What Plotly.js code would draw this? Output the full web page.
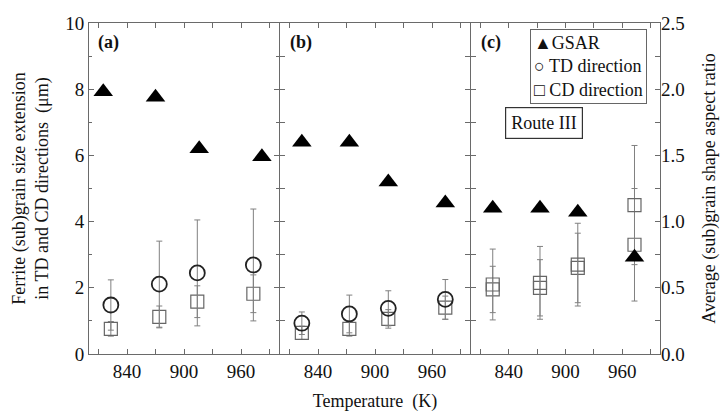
<!DOCTYPE html>
<html>
<head>
<meta charset="utf-8">
<script src="https://cdn.plot.ly/plotly-3.0.1.min.js"></script>
<style>html,body{margin:0;padding:0;background:#fff;}#chart{width:723px;height:412px;}</style>
</head>
<body>
<div id="chart"></div>
<script>
// ---- Data ----
const panelLabels = ['(a)', '(b)', '(c)'];
const tickTemps = [840, 900, 960];
const legendLabels = ['GSAR', 'TD direction', 'CD direction'];

// Panel (a)
const gsarA_T = [815, 870, 916, 982];
const gsarA = [1.98, 1.94, 1.55, 1.49];
const dirA_T = [823, 874, 914, 973];
const tdA = [1.48, 2.11, 2.45, 2.69];
const tdA_err = [0.76, 1.30, 1.60, 1.69];
const cdA = [0.76, 1.12, 1.58, 1.82];
const cdA_err = [0.22, 0.33, 0.48, 0.57];

// Panel (b)
const gsarB_T = [823, 873, 914, 974];
const gsarB = [1.60, 1.60, 1.30, 1.14];
const dirB_T = [823, 873, 914, 974];
const tdB = [0.93, 1.21, 1.38, 1.65];
const tdB_err = [0.34, 0.57, 0.53, 0.60];
const cdB = [0.64, 0.76, 1.06, 1.40];
const cdB_err = [0.20, 0.22, 0.28, 0.35];

// Panel (c)
const gsarC_T = [823, 873, 913, 973];
const gsarC = [1.10, 1.10, 1.07, 0.73];
const dirC_T = [823, 873, 913, 973];
const tdC = [2.10, 2.15, 2.70, 4.50];
const tdC_err = [1.07, 1.10, 1.25, 1.80];
const cdC = [1.95, 2.00, 2.60, 3.30];
const cdC_err = [0.70, 0.85, 1.05, 1.70];

// ---- Styles ----
const FONT = 'Liberation Serif, Times New Roman, serif';
const AX = '#6a6a6a';
const ERR = {color: '#808080', thickness: 1, width: 3};

function tri(x, y, xa) {
  return {x: x, y: y, xaxis: xa, yaxis: 'y2', type: 'scatter', mode: 'markers',
    name: legendLabels[0], showlegend: false,
    marker: {symbol: 'triangle-up', size: 17, color: '#000', line: {width: 0}}};
}
function td(x, y, e, xa, sym) {
  const circ = sym === 'circle-open';
  return {x: x, y: y, xaxis: xa, yaxis: 'y', type: 'scatter', mode: 'markers',
    name: legendLabels[1], showlegend: false,
    error_y: Object.assign({type: 'data', array: e, visible: true}, ERR),
    marker: {symbol: sym, size: circ ? 15 : 13, color: circ ? '#222' : '#666', line: {width: circ ? 1.8 : 1.2}}};
}
function cd(x, y, e, xa) {
  return {x: x, y: y, xaxis: xa, yaxis: 'y', type: 'scatter', mode: 'markers',
    name: legendLabels[2], showlegend: false,
    error_y: Object.assign({type: 'data', array: e, visible: true}, ERR),
    marker: {symbol: 'square-open', size: 13, color: '#666', line: {width: 1.2}}};
}

const data = [
  cd(dirA_T, cdA, cdA_err, 'x'),
  td(dirA_T, tdA, tdA_err, 'x', 'circle-open'),
  cd(dirB_T, cdB, cdB_err, 'x2'),
  td(dirB_T, tdB, tdB_err, 'x2', 'circle-open'),
  cd(dirC_T, cdC, cdC_err, 'x3'),
  td(dirC_T, tdC, tdC_err, 'x3', 'square-open'),
  tri(gsarA_T, gsarA, 'x'),
  tri(gsarB_T, gsarB, 'x2'),
  tri(gsarC_T, gsarC, 'x3')
];

function xax(dom) {
  return {domain: dom, anchor: 'y', range: [800, 1000], tickvals: tickTemps,
    ticks: 'inside', ticklen: 5, tickcolor: AX, showline: true, linecolor: AX, linewidth: 1,
    mirror: 'allticks', showgrid: false, zeroline: false,
    minor: {dtick: 30, tick0: 810, ticks: 'inside', ticklen: 3, tickcolor: AX},
    tickfont: {family: FONT, size: 19, color: '#111'}};
}
const W = 571;
const d1 = 190 / W, d2 = 381 / W, px = 1 / W;
const TF = {family: FONT, size: 18, color: '#111'};
const layout = {
  width: 723, height: 412,
  margin: {l: 89, r: 63, t: 23, b: 58},
  paper_bgcolor: '#fff', plot_bgcolor: '#fff',
  font: {family: FONT, color: '#111'},
  showlegend: false,
  xaxis: xax([0, d1]),
  xaxis2: Object.assign(xax([d1 + px, d2]), {title: {text: 'Temperature  (K)', font: TF, standoff: 14}}),
  xaxis3: xax([d2 + px, 1]),
  yaxis: {range: [0, 10], dtick: 2, anchor: 'x', ticks: 'inside', ticklen: 5, tickcolor: AX,
    showline: true, linecolor: AX, linewidth: 1, mirror: 'allticks', showgrid: false, zeroline: false,
    minor: {dtick: 1, ticks: 'inside', ticklen: 3, tickcolor: AX},
    tickfont: {family: FONT, size: 19, color: '#111'},
    title: {text: 'Ferrite (sub)grain size extension<br>in TD and CD directions  (\u03bcm)', font: TF, standoff: 11}},
  yaxis2: {range: [0, 2.5], dtick: 0.5, tickformat: '.1f', overlaying: 'y', side: 'right', anchor: 'x3',
    ticks: 'inside', ticklen: 5, tickcolor: AX, showline: false, showgrid: false, zeroline: false,
    tickfont: {family: FONT, size: 19, color: '#111'},
    title: {text: 'Average (sub)grain shape aspect ratio', font: TF, standoff: 18}},
  annotations: [
    {text: '<b>' + panelLabels[0] + '</b>', xref: 'paper', yref: 'paper', x: 0.035, y: 0.94, xanchor: 'center', yanchor: 'middle', showarrow: false, font: {family: FONT, size: 18}},
    {text: '<b>' + panelLabels[1] + '</b>', xref: 'paper', yref: 'paper', x: 0.371, y: 0.94, xanchor: 'center', yanchor: 'middle', showarrow: false, font: {family: FONT, size: 18}},
    {text: '<b>' + panelLabels[2] + '</b>', xref: 'paper', yref: 'paper', x: 0.704, y: 0.94, xanchor: 'center', yanchor: 'middle', showarrow: false, font: {family: FONT, size: 18}},
    {text: '\u25B2' + legendLabels[0] + '<br>\u25CB ' + legendLabels[1] + '<br>\u25A1 ' + legendLabels[2],
      xref: 'paper', yref: 'paper', x: 0.772, y: 0.982, xanchor: 'left', yanchor: 'top', align: 'left', showarrow: false,
      bordercolor: '#666', borderwidth: 1, borderpad: 3, bgcolor: '#fff', font: {family: FONT, size: 18, color: '#111'}},
    {text: 'Route III', xref: 'paper', yref: 'paper', x: 0.796, y: 0.698, xanchor: 'center', yanchor: 'middle', showarrow: false,
      bordercolor: '#333', borderwidth: 1.2, borderpad: 5, bgcolor: '#fff', font: {family: FONT, size: 18}}
  ]
};
Plotly.newPlot('chart', data, layout, {displayModeBar: false, staticPlot: true});
</script>
</body>
</html>
